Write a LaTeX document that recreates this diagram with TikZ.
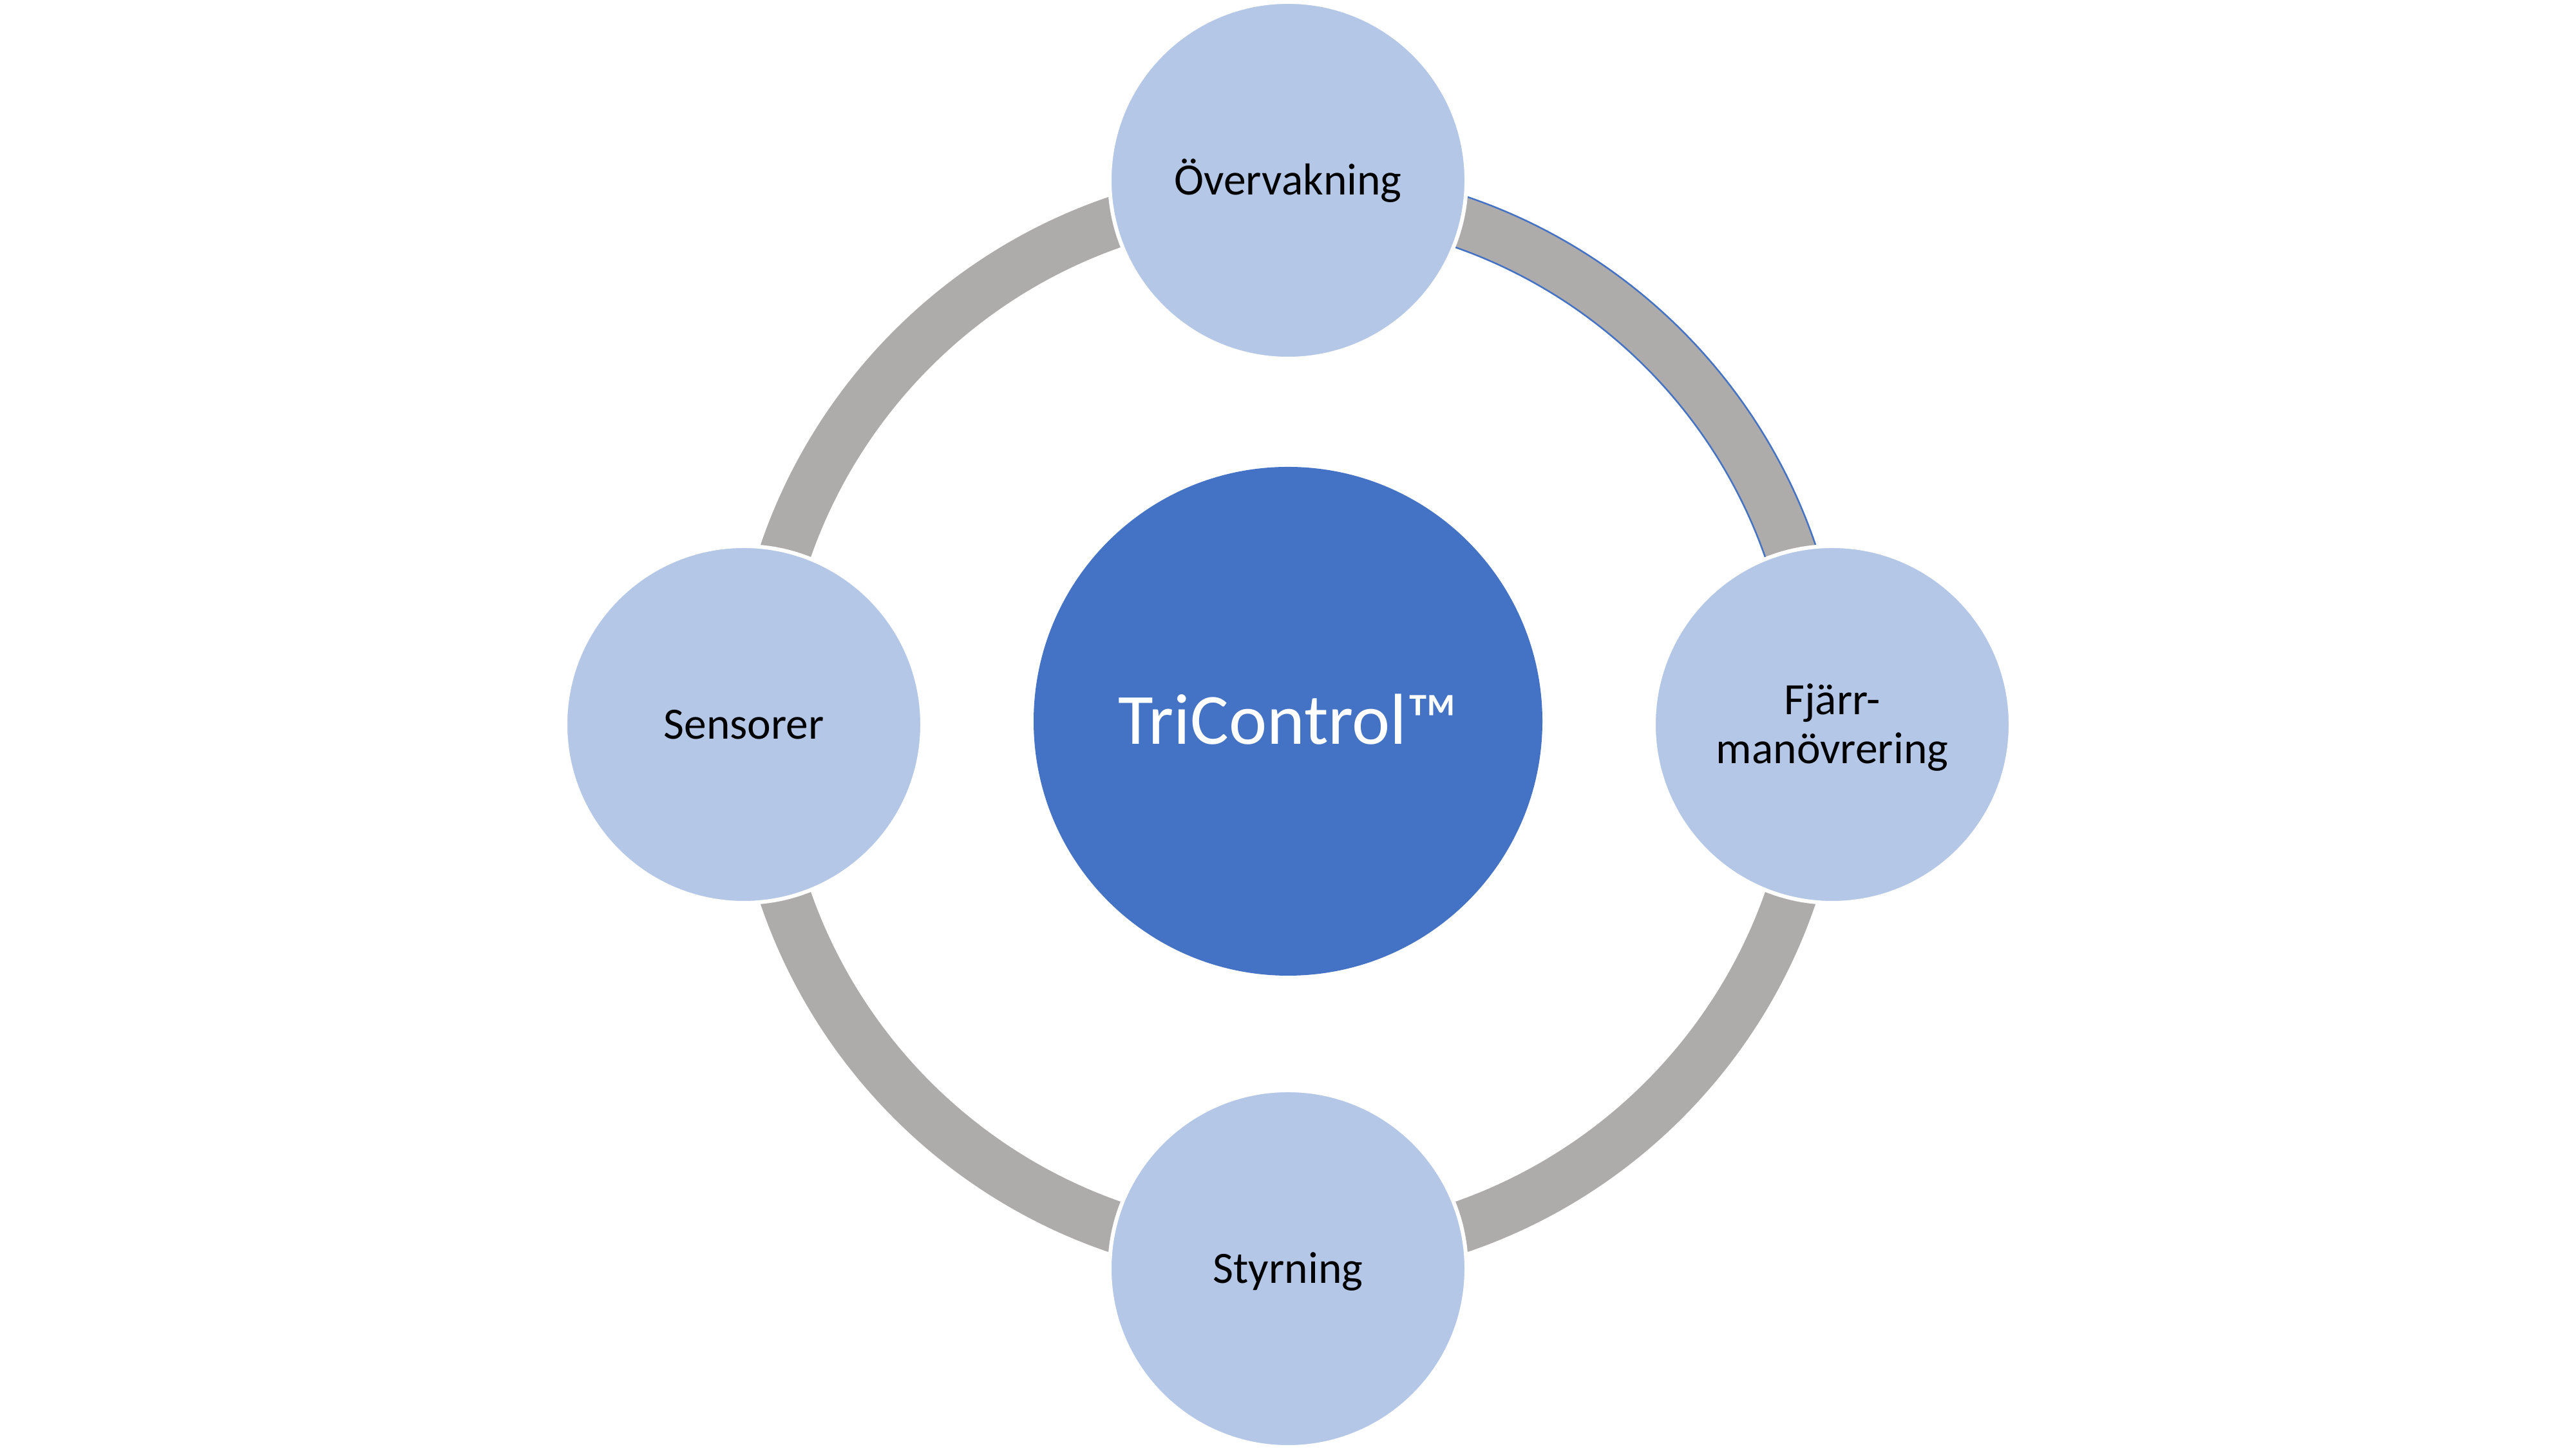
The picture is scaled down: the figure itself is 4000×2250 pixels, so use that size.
\documentclass[tikz,border=0pt]{standalone}
\usepackage{fontspec}
\setmainfont{Carlito}
\definecolor{hubblue}{HTML}{4472C4}
\definecolor{satblue}{HTML}{B4C7E7}
\definecolor{ringgray}{HTML}{AEABAB}
\tikzset{
  hub/.style={circle, fill=hubblue, draw=none, minimum size=158pt, inner sep=0pt,
    text=white, font=\fontsize{22.4}{26}\selectfont, text height=14.4pt, text depth=0pt},
  sat/.style={circle, fill=satblue, draw=white, line width=1.2pt, minimum size=110.8pt, inner sep=0pt,
    text=black, font=\fontsize{13.9}{15.2}\selectfont, align=center, text height=8.95pt, text depth=0pt},
  ring/.style={draw=ringgray, line width=16pt},
  ringedge/.style={draw=hubblue, line width=0.5pt}
}
\begin{document}
\begin{tikzpicture}[x=0.2pt, y=0.2pt]
\useasboundingbox (0,0) rectangle (4000,2250);
\coordinate (c) at (2000,1125);
% ring
\draw[ring] (c) circle[radius=825];
% blue outline on the upper right arc
\draw[ringedge] ([shift={(c)}]0:865) arc[start angle=0, end angle=90, radius=865];
\draw[ringedge] ([shift={(c)}]0:785) arc[start angle=0, end angle=90, radius=785];
% hub
\node[hub, yshift=1pt] (hub) at (c) {TriControl™};
% satellites
\node[sat] (top) at (2000,1970) {Övervakning};
\node[sat, text height=24.15pt] (right) at (2845,1125) {Fjärr-\\manövrering};
\node[sat] (bottom) at (2000,280) {Styrning};
\node[sat] (left) at (1155,1125) {Sensorer};
\end{tikzpicture}
\end{document}
